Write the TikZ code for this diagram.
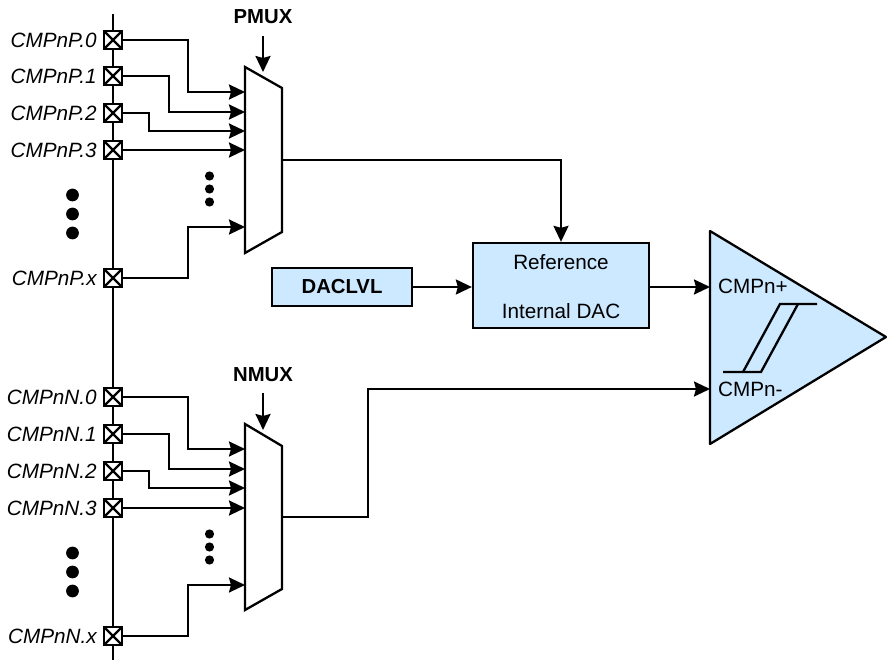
\documentclass[tikz,border=0pt]{standalone}
\usepackage{fontspec}
\setmainfont{Liberation Sans}
\usetikzlibrary{positioning, arrows.meta}
\definecolor{BoxBlue}{RGB}{204, 233, 255}
\tikzset{
  wire/.style={line width=2.3pt, -{Stealth[length=16pt, width=15pt, inset=2pt]}},
  plainwire/.style={line width=2.3pt},
  padbox/.style={draw, line width=2.3pt, fill=white, inner sep=0pt, minimum size=18pt,
    path picture={
      \draw[line width=2.3pt] (path picture bounding box.north west) -- (path picture bounding box.south east);
      \draw[line width=2.3pt] (path picture bounding box.north east) -- (path picture bounding box.south west);
    }},
  padlabel/.style={inner sep=0pt, font=\fontsize{20.7}{24}\selectfont\itshape},
  bluebox/.style={draw, line width=2.3pt, fill=BoxBlue, inner sep=0pt},
  boxtext/.style={inner sep=0pt, font=\fontsize{20.7}{24}\selectfont},
  boldtext/.style={inner sep=0pt, font=\fontsize{20.3}{24}\selectfont\bfseries},
}

\begin{document}
\begin{tikzpicture}[x=1pt, y=-1pt]
    \useasboundingbox (0,0) rectangle (887,660);

    % Bus and pads
    \draw[plainwire] (113,14) -- (113,660);
    \foreach \pname/\ptext/\ypos in {P0/CMPnP.0/40, P1/CMPnP.1/76, P2/CMPnP.2/113, P3/CMPnP.3/150, Px/CMPnP.x/278,
                                     N0/CMPnN.0/397, N1/CMPnN.1/434, N2/CMPnN.2/471, N3/CMPnN.3/508, Nx/CMPnN.x/636} {
      \node[padbox] (pad\pname) at (113,\ypos) {};
      \node[padlabel, left=6pt of pad\pname] (lbl\pname) {\ptext};
    }

    % Continuation dots
    \foreach \ypos in {195,214,233,553,572,591}
      \fill (72.5,\ypos) circle (6.4pt);
    \foreach \ypos in {176,189,202,534,547,560}
      \fill (209.5,\ypos) circle (4.6pt);

    % Muxes
    \draw[plainwire, line join=miter] (245,67) -- (282,88) -- (282,232) -- (245,253) -- cycle;
    \draw[plainwire, line join=miter] (245,424) -- (282,446) -- (282,589) -- (245,610) -- cycle;
    \node[boldtext] (pmuxlbl) at (263,17) {PMUX};
    \node[boldtext] (nmuxlbl) at (263,375) {NMUX};
    \coordinate (pmuxsrc) at (263,36);
    \coordinate (pmuxsel) at (263,72);
    \coordinate (nmuxsrc) at (263,393);
    \coordinate (nmuxsel) at (263,430);
    \draw[wire] (pmuxsrc) -- (pmuxsel);
    \draw[wire] (nmuxsrc) -- (nmuxsel);

    % Inputs into the muxes
    \foreach \pname/\xbend/\ypos in {P0/188/92, P1/169/112, P2/149/131, Px/188/227,
                                     N0/188/449, N1/169/469, N2/149/488, Nx/188/585} {
      \coordinate (in\pname) at (245,\ypos);
      \coordinate (bend\pname) at (\xbend,\ypos);
      \draw[wire] (pad\pname.east) -| (bend\pname) -- (in\pname);
    }
    \coordinate (inP3) at (245,150);
    \coordinate (inN3) at (245,508);
    \draw[wire] (padP3.east) -- (inP3);
    \draw[wire] (padN3.east) -- (inN3);

    % Boxes
    \node[bluebox, minimum width=176pt, minimum height=85pt] (refbox) at (561,285.5) {};
    \node[boxtext] (reftext) at (561,262) {Reference};
    \node[boxtext] (dactext) at (561,311) {Internal DAC};
    \node[bluebox, boldtext, inner sep=0pt, minimum width=140pt, minimum height=38pt] (daclvl) at (342,287) {DACLVL};

    % Comparator
    \draw[plainwire, fill=BoxBlue, line join=round] (710,231) -- (886,337) -- (710,444) -- cycle;
    \coordinate (cmpplus) at (710,287);
    \coordinate (cmpminus) at (710,389);
    \node[boxtext, anchor=west] (plustext) at (718,286) {CMPn+};
    \node[boxtext, anchor=west] (minustext) at (718,389) {CMPn-};
    \draw[plainwire] (723,372) -- (761,372) -- (798,304);
    \draw[plainwire] (743,372) -- (780,304) -- (817,304);

    % Outputs
    \coordinate (pmuxout) at (282,160);
    \coordinate (nmuxout) at (282,517);
    \coordinate (nmuxbend) at (368,517);
    \draw[wire] (pmuxout) -| (refbox.north);
    \draw[wire] (daclvl.east) -- (refbox.west |- daclvl.east);
    \draw[wire] (refbox.east |- cmpplus) -- (cmpplus);
    \draw[wire] (nmuxout) -- (nmuxbend) |- (cmpminus);
\end{tikzpicture}
\end{document}
